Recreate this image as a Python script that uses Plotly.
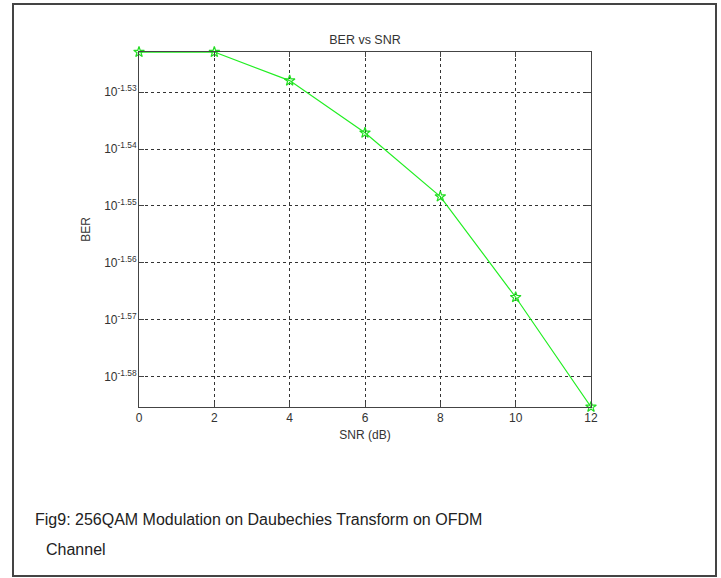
import math
import plotly.graph_objects as go

snr_db = [0, 2, 4, 6, 8, 10, 12]
ber = [0.029995, 0.029995, 0.02965, 0.02903, 0.02829, 0.02716, 0.02598]

ytick_exps = [-1.58, -1.57, -1.56, -1.55, -1.54, -1.53]
ytick_vals = [10 ** e for e in ytick_exps]
ytick_text = ["10<sup>%.2f</sup>" % e for e in ytick_exps]
xtick_vals = [0, 2, 4, 6, 8, 10, 12]

title_text = "BER vs SNR"
xlabel = "SNR (dB)"
ylabel = "BER"
caption1 = "Fig9: 256QAM Modulation on Daubechies Transform on OFDM"
caption2 = "Channel"

font_main = "Liberation Sans, Arial, Helvetica, sans-serif"
font_cap = "Liberation Sans, Arial, sans-serif"

fig = go.Figure()
fig.add_trace(go.Scatter(
    x=snr_db, y=ber, mode="lines+markers",
    line=dict(color="#22ee22", width=1.2),
    marker=dict(symbol="star-open", size=8, color="#22dd22", line=dict(width=1.2)),
    cliponaxis=False, showlegend=False,
))

axis_common = dict(
    showline=True, linecolor="#444444", linewidth=1, mirror="ticks",
    ticks="inside", ticklen=5, tickcolor="#444444",
    showgrid=True, gridcolor="#333333", griddash="dot", gridwidth=1,
    zeroline=False,
    tickfont=dict(family=font_main, size=12, color="#333333"),
)

fig.update_xaxes(
    range=[0, 12], tickvals=xtick_vals, ticktext=[str(v) for v in xtick_vals],
    title=dict(text=xlabel, font=dict(family=font_main, size=12, color="#333333"), standoff=6),
    **axis_common,
)
fig.update_yaxes(
    type="log", range=[math.log10(min(ber)) - 1e-5, math.log10(max(ber)) + 1e-5],
    tickvals=ytick_vals, ticktext=ytick_text, ticklabelstandoff=-1,
    title=dict(text=ylabel, font=dict(family=font_main, size=12, color="#333333"), standoff=10),
    **axis_common,
)

fig.update_layout(
    width=721, height=578,
    margin=dict(l=139, r=130, t=52, b=171),
    paper_bgcolor="white", plot_bgcolor="white",
    title=dict(text=title_text, x=0.5, xref="paper", xanchor="center",
               y=1 - 40 / 578, yanchor="middle",
               font=dict(family=font_main, size=12.5, color="#333333")),
    shapes=[dict(type="rect", xref="paper", yref="paper",
                 x0=(13 - 139) / 452, x1=(716 - 139) / 452,
                 y0=(407 - 576) / 355, y1=(407 - 4) / 355,
                 line=dict(color="#444444", width=2), layer="below")],
    annotations=[
        dict(text=caption1, xref="paper", yref="paper",
             x=(33 - 139) / 452, y=(407 - 519) / 355, xanchor="left", yanchor="middle",
             showarrow=False, font=dict(family=font_cap, size=16, color="#222222")),
        dict(text=caption2, xref="paper", yref="paper",
             x=(44 - 139) / 452, y=(407 - 549) / 355, xanchor="left", yanchor="middle",
             showarrow=False, font=dict(family=font_cap, size=16, color="#222222")),
    ],
)

fig.write_html("out.html")
